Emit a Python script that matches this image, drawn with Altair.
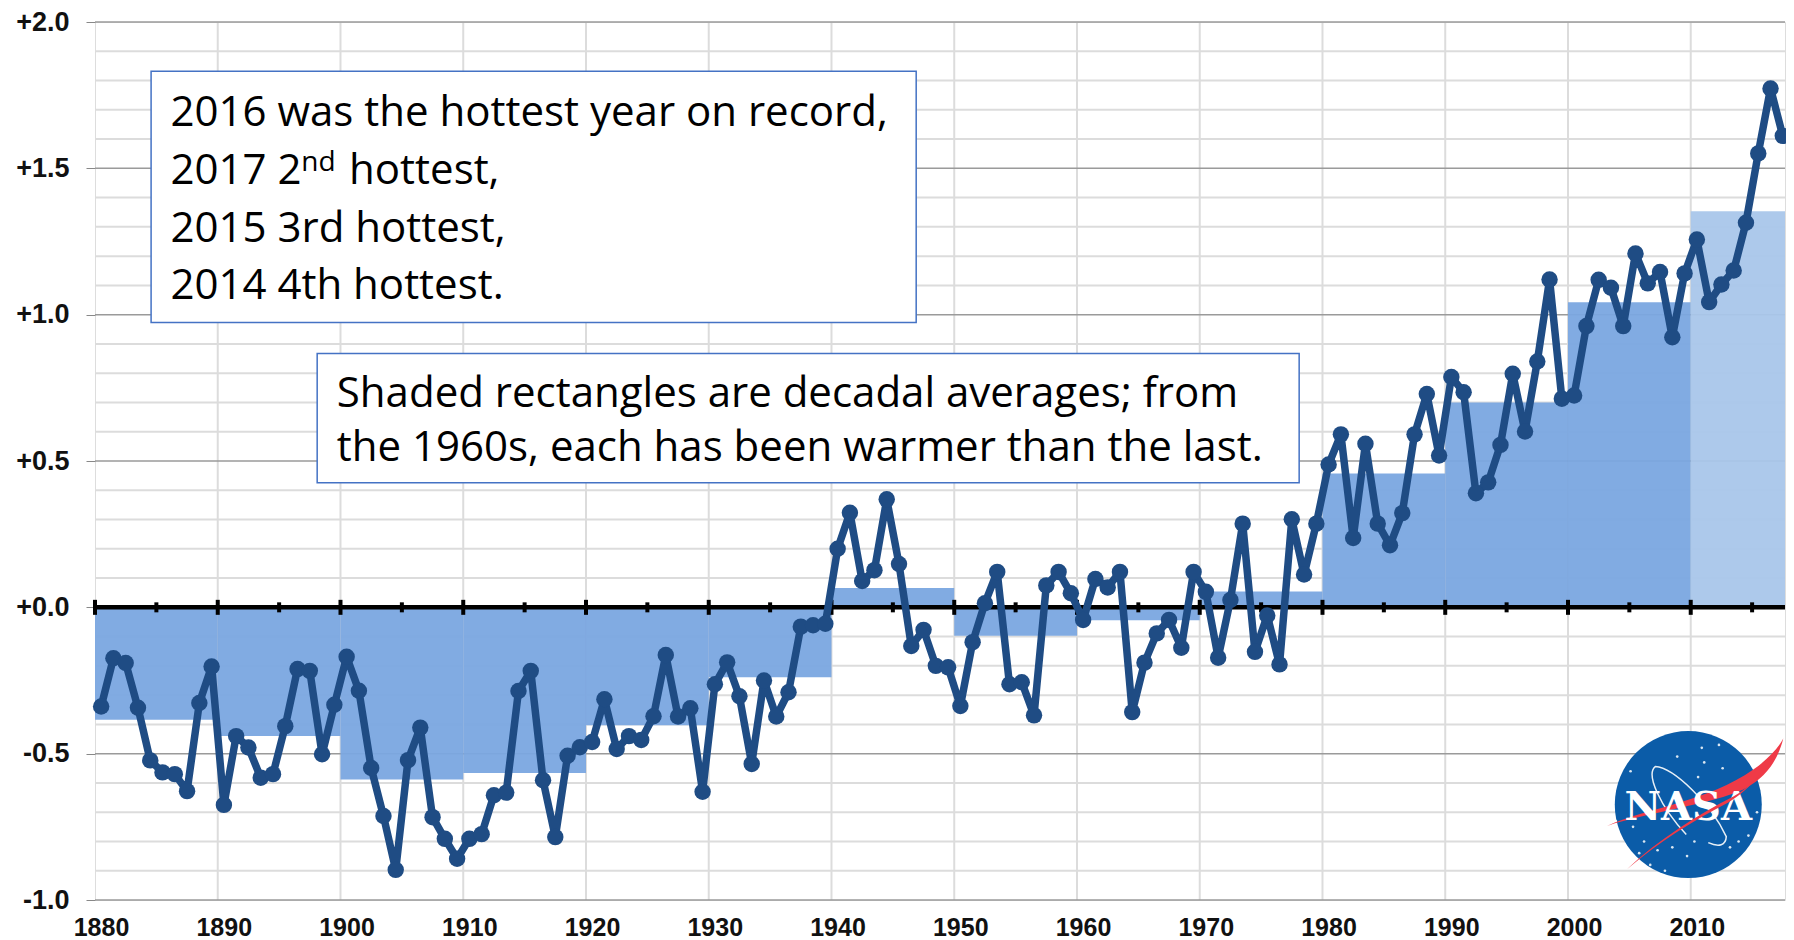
import altair as alt
import pandas as pd

anomaly = [
 -0.339,-0.174,-0.190,-0.343,-0.523,-0.564,-0.570,-0.628,-0.327,-0.202,
 -0.675,-0.440,-0.479,-0.582,-0.570,-0.406,-0.211,-0.217,-0.502,-0.333,
 -0.169,-0.285,-0.549,-0.713,-0.897,-0.522,-0.411,-0.717,-0.791,-0.859,
 -0.791,-0.775,-0.642,-0.633,-0.286,-0.217,-0.591,-0.785,-0.507,-0.478,
 -0.460,-0.314,-0.484,-0.440,-0.453,-0.372,-0.163,-0.373,-0.345,-0.630,
 -0.263,-0.188,-0.304,-0.535,-0.250,-0.373,-0.290,-0.066,-0.061,-0.056,
  0.200, 0.323, 0.090, 0.127, 0.369, 0.148,-0.132,-0.077,-0.200,-0.205,
 -0.337,-0.119, 0.014, 0.121,-0.263,-0.256,-0.369, 0.075, 0.121, 0.048,
 -0.043, 0.097, 0.068, 0.121,-0.358,-0.189,-0.089,-0.043,-0.138, 0.121,
  0.053,-0.172, 0.025, 0.286,-0.152,-0.028,-0.195, 0.301, 0.112, 0.286,
  0.488, 0.591, 0.237, 0.559, 0.286, 0.212, 0.322, 0.591, 0.729, 0.519,
  0.787, 0.735, 0.390, 0.427, 0.555, 0.798, 0.601, 0.840, 1.120, 0.713,
  0.724, 0.961, 1.119, 1.092, 0.961, 1.209, 1.107, 1.146, 0.923, 1.141,
  1.257, 1.043, 1.103, 1.151, 1.314, 1.551, 1.773, 1.611]
years = [1880.5 + i for i in range(len(anomaly))]

X_END = 2017.68
decade_start = [1880,1890,1900,1910,1920,1930,1940,1950,1960,1970,1980,1990,2000,2010]
decade_end   = [1890,1900,1910,1920,1930,1940,1950,1960,1970,1980,1990,2000,2010,X_END]
decade_mean  = [-0.384,-0.440,-0.588,-0.566,-0.403,-0.239,0.066,-0.097,-0.044,0.054,0.457,0.700,1.042,1.353]
decade_fill  = ["#7aa6e0"]*13 + ["#a9c6ea"]

x_decades = list(range(1880, 2011, 10))
x_fives = list(range(1885, 2016, 10))
y_major = [-1.0,-0.5,0.5,1.0,1.5,2.0]
y_minor = [-0.9,-0.8,-0.7,-0.6,-0.4,-0.3,-0.2,-0.1,0.1,0.2,0.3,0.4,0.6,0.7,0.8,0.9,
           1.1,1.2,1.3,1.4,1.6,1.7,1.8,1.9]

box_x = [1884.57, 1898.1]; box_x2 = [1946.9, 1978.1]
box_y = [1.832, 0.867];   box_y2 = [0.973, 0.426]

note_text = ["2016 was the hottest year on record,", "2017 2", "hottest,", "2015 3rd hottest,", "2014 4th hottest.",
             "Shaded rectangles are decadal averages; from", "the 1960s, each has been warmer than the last."]
note_x = [1886.15, 1886.15, 1900.7, 1886.15, 1886.15, 1899.7, 1899.7]
note_y = [1.643, 1.446, 1.446, 1.248, 1.054, 0.686, 0.499]

# NASA badge
logo_x, logo_y = 2009.8, -0.674
star_x = [2003.9,2005.3,2006.2,2008.5,2009.7,2010.3,2011.1,2012.3,2012.6,2005.8,2006.7,2015.4,2015.8,2016.0,
          2005.1,2007.3,2007.9,2010.9,2013.2,2014.2,2014.7,2008.9,2010.6,2013.9]
star_y = [-0.73,-0.75,-0.80,-0.82,-0.85,-0.80,-0.53,-0.47,-0.55,-0.84,-0.88,-0.70,-0.73,-0.68,
          -0.56,-0.83,-0.90,-0.48,-0.82,-0.88,-0.78,-0.51,-0.58,-0.80]

X = alt.Scale(domain=[1880, X_END], nice=False, zero=False)
Y = alt.Scale(domain=[-1.0, 2.0], nice=False, zero=False)
xq = lambda f: alt.X(f, type="quantitative", scale=X, title=None)
yq = lambda f: alt.Y(f, type="quantitative", scale=Y, title=None)

df = pd.DataFrame({"x": years, "y": anomaly})
dec = pd.DataFrame({"x": decade_start, "x2": decade_end, "y": decade_mean, "zero": [0]*14, "fill": decade_fill})

def hrule(vals, color, w):
    return alt.Chart(pd.DataFrame({"y": vals})).mark_rule(color=color, strokeWidth=w).encode(y=yq("y"))

axes = alt.Chart(pd.DataFrame({"x": [1880], "y": [0]})).mark_point(opacity=0).encode(
    x=alt.X("x:Q", scale=X, title=None, axis=alt.Axis(
        values=x_decades, format="d", grid=False, tickSize=0, domain=False, labelOffset=6,
        labelFont="Liberation Sans", labelFontWeight="bold", labelFontSize=25, labelColor="#111",
        labelPadding=15, labelFlush=False, labelOverlap=False)),
    y=alt.Y("y:Q", scale=Y, title=None, axis=alt.Axis(
        values=[-1,-0.5,0,0.5,1,1.5,2], grid=False, tickSize=9, tickColor="#888", domain=False,
        labelExpr="(datum.value<0?'-':'+')+format(abs(datum.value),'.1f')",
        labelFont="Liberation Sans", labelFontWeight="bold", labelFontSize=27, labelColor="#111",
        labelPadding=17, labelFlush=False, labelOverlap=False)),
)

vgrid = alt.Chart(pd.DataFrame({"x": x_decades[1:]})).mark_rule(color="#dcdcdc", strokeWidth=2).encode(x=xq("x"))
rects = alt.Chart(dec).mark_rect(opacity=0.95).encode(
    x=xq("x"), x2="x2", y=yq("zero"), y2="y", fill=alt.Fill("fill:N", scale=None))
zero = hrule([0], "#000000", 4.5)
tick10 = alt.Chart(pd.DataFrame({"x": x_decades, "y": [0]*len(x_decades)})).mark_tick(
    orient="vertical", color="#000", size=15, thickness=4, opacity=1).encode(x=xq("x"), y=yq("y"))
tick5 = alt.Chart(pd.DataFrame({"x": x_fives, "y": [0]*len(x_fives)})).mark_tick(
    orient="vertical", color="#000", size=10, thickness=4, opacity=1).encode(x=xq("x"), y=yq("y"))
SER = "#1f4c84"
line = alt.Chart(df).mark_line(color=SER, strokeWidth=7.5, strokeJoin="round").encode(x=xq("x"), y=yq("y"))
pts = alt.Chart(df).mark_point(filled=True, color=SER, size=270, opacity=1, clip=False).encode(x=xq("x"), y=yq("y"))

boxes = alt.Chart(pd.DataFrame({"x": box_x, "x2": box_x2, "y": box_y, "y2": box_y2})).mark_rect(
    fill="#ffffff", stroke="#4472c4", strokeWidth=1.5).encode(x=xq("x"), x2="x2", y=yq("y"), y2="y2")
notes = alt.Chart(pd.DataFrame({"t": note_text, "x": note_x, "y": note_y})).mark_text(
    align="left", baseline="alphabetic", font="Open Sans", fontSize=42, color="#000").encode(
    x=xq("x"), y=yq("y"), text="t:N")
sup = alt.Chart(pd.DataFrame({"t": ["nd"], "x": [1896.8], "y": [1.490]})).mark_text(
    align="left", baseline="alphabetic", font="Open Sans", fontSize=28, color="#000").encode(
    x=xq("x"), y=yq("y"), text="t:N")

# NASA logo
lg = pd.DataFrame({"x": [logo_x], "y": [logo_y]})
disc = alt.Chart(lg).mark_point(filled=True, color="#0b5ca8", size=21609, opacity=1).encode(x=xq("x"), y=yq("y"))
wing_path = ("M -0.813 0.213 C -0.4 0.03 0.2 -0.03 0.65 -0.35 C 0.78 -0.44 0.9 -0.56 0.95 -0.66 "
             "C 0.88 -0.38 0.72 -0.24 0.55 -0.15 C 0.25 -0.01 -0.4 0.08 -0.813 0.213 Z")
wing = alt.Chart(lg).mark_point(filled=True, color="#ef3a47", shape=wing_path, size=40000, opacity=1).encode(x=xq("x"), y=yq("y"))
thin_path = ("M -0.613 0.647 C -0.3 0.35 0.1 0.1 0.45 -0.08 C 0.58 -0.15 0.66 -0.24 0.72 -0.3 "
             "C 0.62 -0.18 0.5 -0.08 0.4 -0.02 C 0.05 0.16 -0.3 0.38 -0.613 0.647 Z")
thin = alt.Chart(lg).mark_point(filled=True, color="#ef3a47", shape=thin_path, size=40000, opacity=1).encode(x=xq("x"), y=yq("y"))
ring_path = "M -0.02 0.3 A 0.62 0.2 50 0 1 -0.33 -0.38 A 0.62 0.2 50 0 1 0.38 0.32 A 0.62 0.2 50 0 1 0.2 0.38"
ring = alt.Chart(lg).mark_point(filled=False, stroke="#ffffff", strokeWidth=1.5, shape=ring_path, size=40000, opacity=0.9).encode(x=xq("x"), y=yq("y"))
stars = alt.Chart(pd.DataFrame({"x": star_x, "y": star_y})).mark_point(filled=True, color="#ffffff", size=7, opacity=0.85).encode(x=xq("x"), y=yq("y"))
nasa = alt.Chart(pd.DataFrame({"t": ["NASA"], "x": [logo_x], "y": [-0.725]})).mark_text(
    align="center", baseline="alphabetic", font="DejaVu Serif", fontWeight="bold", fontSize=40, color="#ffffff").encode(
    x=xq("x"), y=yq("y"), text="t:N")

chart = alt.layer(
    hrule(y_minor, "#dcdcdc", 2), vgrid, hrule(y_major, "#9a9a9a", 1.5),
    rects, zero, tick10, tick5, line, pts, boxes, notes, sup,
    disc, ring, stars, wing, nasa, thin, axes
).properties(
    width=1690, height=878,
    padding={"left": 87, "top": 14, "right": 1, "bottom": 40},
    autosize=alt.AutoSizeParams(type="none"),
).configure_view(stroke="#555555", strokeWidth=1.5).configure(background="#ffffff")

chart.save("out.html", embed_options={"renderer": "svg", "actions": False})
